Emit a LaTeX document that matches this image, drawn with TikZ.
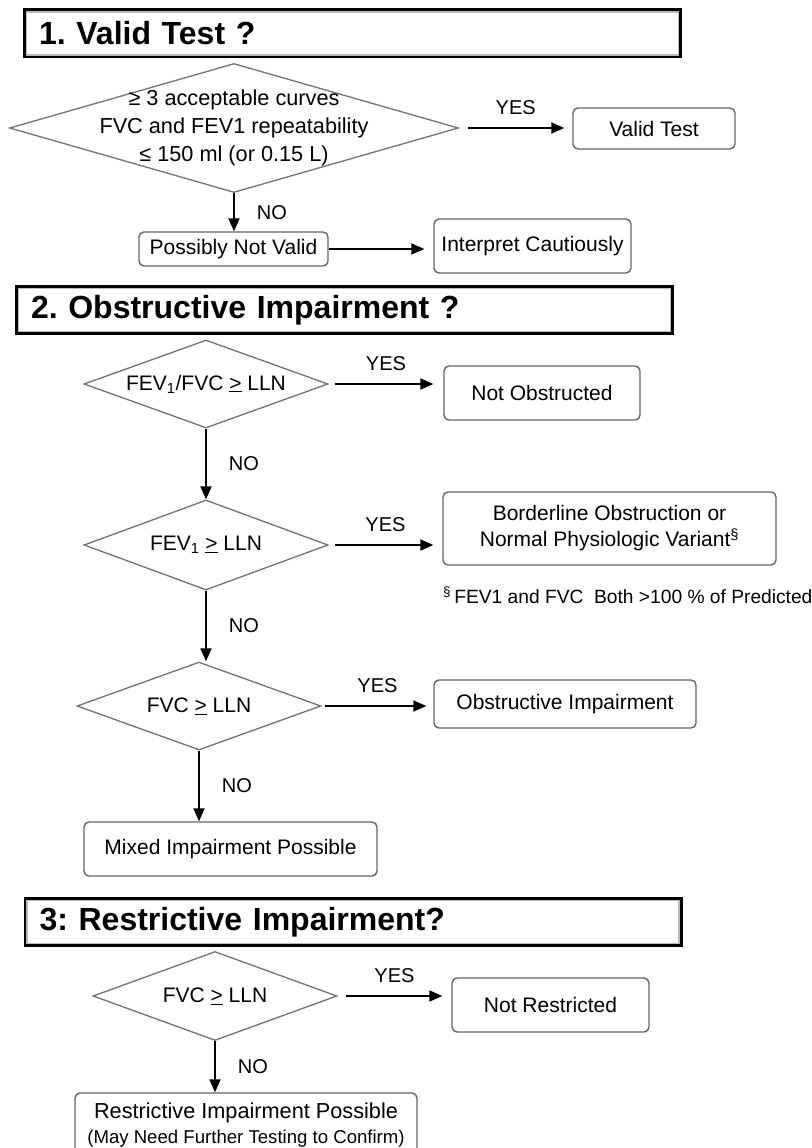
\documentclass[tikz,border=0pt]{standalone}
\usepackage{fontspec}
\setmainfont{Liberation Sans}
\usetikzlibrary{shapes.geometric,arrows.meta,calc}
\frenchspacing
\begin{document}
\begin{tikzpicture}[x=1pt, y=-1pt, font=\fontsize{21}{25}\selectfont]
  \tikzstyle{header}=[draw, line width=4pt, minimum height=46pt, text width=627pt, inner xsep=14pt, align=left, font=\fontsize{32}{36}\selectfont\bfseries]
  \tikzstyle{decision}=[draw=black!55, line width=1.3pt, diamond, inner sep=0pt]
  \tikzstyle{result}=[draw=black!60, line width=1.4pt, rounded corners=5pt, inner sep=0pt, align=center]
  \tikzstyle{yesno}=[inner sep=2pt, font=\fontsize{20}{24}\selectfont]
  \tikzstyle{flow}=[line width=1.9pt, -{Triangle[length=13pt,width=11pt]}]
  \useasboundingbox (0,0) rectangle (811,1148);
  \clip (0,0) rectangle (811,1148);
  \fill[white] (0,0) rectangle (811,1148);
  % Section headers with inner grey frame
  \foreach \place/\name/\title in {{(352.5,33.5)/h1/1. Valid Test ?}, {(344.5,310)/h2/2. Obstructive Impairment ?}, {(353,922)/h3/3: Restrictive Impairment?}}
  {
    \node[header] (\name) at \place {\title};
    \draw[gray!55, line width=1.6pt] ($(\name.north west)+(3.6,3.6)$) rectangle ($(\name.south east)+(-3.6,-3.6)$);
  }

  % 1. Valid test
  \node[decision, minimum width=449pt, minimum height=129pt] (d1) at (234,128) {};
  \node[align=center, font=\fontsize{21.7}{28}\selectfont] (d1txt) at (d1) {≥ 3 acceptable curves\\FVC and FEV1 repeatability\\≤ 150 ml (or 0.15 L)};
  \node[result, minimum width=162pt, minimum height=41pt] (valid) at (654,128.5) {Valid Test};
  \node[result, minimum width=189pt, minimum height=34pt] (pnv) at (233.5,249) {Possibly Not Valid};
  \node[result, minimum width=197pt, minimum height=54pt] (interp) at (532.5,246) {Interpret Cautiously};
  \draw[flow, shorten <=9pt, shorten >=8pt] (d1.east) -- node[yesno, above=10pt] (yes1) {YES} (d1.east -| valid.west);
  \draw[flow] (d1.south) -- node[yesno, right=20pt] (no1) {NO} (d1.south |- pnv.north);
  \draw[flow, shorten >=9pt] (pnv.east) -- (pnv.east -| interp.west);

  % 2. Obstructive impairment
  \node[decision, minimum width=244pt, minimum height=88pt] (d2) at (206,384) {};
  \node (d2txt) at (d2) {FEV\textsubscript{1}/FVC \underline{>} LLN};
  \node[decision, minimum width=244pt, minimum height=90pt] (d3) at (206,545) {};
  \node (d3txt) at (d3) {FEV\textsubscript{1} \underline{>} LLN};
  \node[decision, minimum width=244pt, minimum height=88pt] (d4) at (199,706) {};
  \node (d4txt) at (d4) {FVC \underline{>} LLN};
  \node[result, minimum width=196pt, minimum height=54pt] (nobs) at (542,393) {Not Obstructed};
  \node[result, minimum width=333pt, minimum height=73pt, font=\fontsize{21}{26}\selectfont] (border) at (609.5,528.5) {Borderline Obstruction or\\Normal Physiologic Variant\textsuperscript{§}};
  \node[anchor=west, inner sep=0pt, font=\fontsize{19.2}{22}\selectfont] (note) at (443,595) {\textsuperscript{§}\,FEV1 and FVC\ \ Both >100 \% of Predicted};
  \node[result, minimum width=262pt, minimum height=48pt] (obs) at (565,704) {Obstructive Impairment};
  \node[result, minimum width=293pt, minimum height=54pt] (mixed) at (230.5,849) {Mixed Impairment Possible};
  \draw[flow, shorten <=6pt, shorten >=10pt] (d2.east) -- node[yesno, above=10pt] (yes2) {YES} (d2.east -| nobs.west);
  \draw[flow] (d2.south) -- node[yesno, right=20pt] (no2) {NO} (d3.north);
  \draw[flow, shorten <=6pt, shorten >=9pt] (d3.east) -- node[yesno, above=10pt] (yes3) {YES} (d3.east -| border.west);
  \draw[flow] (d3.south) -- node[yesno, right=20pt] (no3) {NO} (d3.south |- d4.north);
  \draw[flow, shorten <=3pt, shorten >=7pt] (d4.east) -- node[yesno, above=10pt] (yes4) {YES} (d4.east -| obs.west);
  \draw[flow] (d4.south) -- node[yesno, right=20pt] (no4) {NO} (d4.south |- mixed.north);

  % 3. Restrictive impairment
  \node[decision, minimum width=244pt, minimum height=89pt] (d5) at (215,996) {};
  \node (d5txt) at (d5) {FVC \underline{>} LLN};
  \node[result, minimum width=197pt, minimum height=54pt] (nres) at (550.5,1005) {Not Restricted};
  \node[result, minimum width=342pt, minimum height=64pt] (restr) at (246,1125) {\fontsize{21.7}{20}\selectfont Restrictive Impairment Possible\\\fontsize{18.6}{20}\selectfont (May Need Further Testing to Confirm)};
  \draw[flow, shorten <=8pt, shorten >=9pt] (d5.east) -- node[yesno, above=10pt] (yes5) {YES} (d5.east -| nres.west);
  \draw[flow] (d5.south) -- node[yesno, right=20pt] (no5) {NO} (d5.south |- restr.north);
\end{tikzpicture}
\end{document}
